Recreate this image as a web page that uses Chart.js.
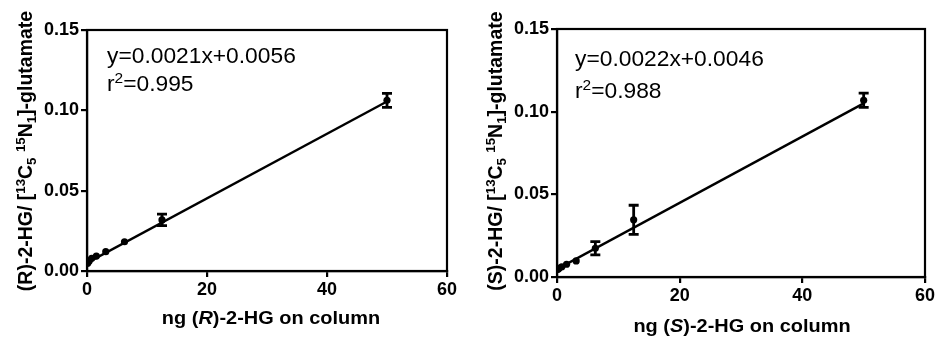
<!DOCTYPE html>
<html>
<head>
<meta charset="utf-8">
<script src="https://cdn.jsdelivr.net/npm/chart.js@4.4.1/dist/chart.umd.min.js"></script>
<style>
  html, body { margin: 0; padding: 0; background: #fff; }
  #wrap { position: relative; width: 939px; height: 339px; }
  .panel { position: absolute; top: 0; height: 339px; }
</style>
</head>
<body>
<div id="wrap">
  <div class="panel" style="left:0;width:470px"><canvas id="chartR"></canvas></div>
  <div class="panel" style="left:470px;width:469px"><canvas id="chartS"></canvas></div>
</div>
<script>
// ng on column (dilution series)
const ngOnColumn = [0.098, 0.195, 0.39, 0.78, 1.56, 3.125, 6.25, 12.5, 50];

// (R)-2-HG ratio, mean and SD
const ratioR = [0.0048, 0.0054, 0.0064, 0.0079, 0.0093, 0.0120, 0.0182, 0.0318, 0.1062];
const errR = [0, 0, 0, 0, 0, 0, 0, 0.0036, 0.0044];

// (S)-2-HG ratio, mean and SD
const ratioS = [0.0045, 0.0048, 0.0054, 0.0062, 0.0077, 0.0097, 0.0174, 0.0346, 0.1069];
const errS = [0, 0, 0, 0, 0, 0, 0.0040, 0.0088, 0.0043];

// fitted lines (end points)
const fitX = [0, 50];
const fitR = [0.0050, 0.1055];
const fitS = [0.0047, 0.1050];

const xTicks = [0, 20, 40, 60];
const yTicks = [0, 0.05, 0.10, 0.15];
const yTickLabels = ["0.00", "0.05", "0.10", "0.15"];

const FONT = "'Liberation Sans', Arial, Helvetica, sans-serif";

function segFont(s, size, weight) {
  const sz = s.sup || s.sub ? size * 0.68 : size;
  return (s.i ? "italic " : "") + weight + " " + sz + "px " + FONT;
}

// draws mixed text (italic / superscript / subscript) with baseline at (x, y)
function drawRich(ctx, segs, x, y, size, weight, align, sx) {
  ctx.save();
  ctx.translate(x, y);
  ctx.scale(sx, 1);
  let w = 0;
  segs.forEach(s => { ctx.font = segFont(s, size, weight); w += ctx.measureText(s.t).width; });
  let cx = align === "center" ? -w / 2 : 0;
  ctx.fillStyle = "#000";
  ctx.textBaseline = "alphabetic";
  ctx.textAlign = "left";
  segs.forEach(s => {
    ctx.font = segFont(s, size, weight);
    const dy = s.sup ? -size * 0.36 : s.sub ? size * 0.2 : 0;
    ctx.fillText(s.t, cx, dy);
    cx += ctx.measureText(s.t).width;
  });
  ctx.restore();
}

const errorBars = {
  id: "errorBars",
  afterDatasetsDraw(chart, args, opts) {
    const { ctx, scales: { x, y } } = chart;
    ctx.save();
    ctx.strokeStyle = "#000";
    ctx.lineWidth = 2.8;
    opts.xs.forEach((xv, i) => {
      const e = opts.err[i];
      if (!e) return;
      const px = x.getPixelForValue(xv);
      const top = y.getPixelForValue(opts.ys[i] + e);
      const bot = y.getPixelForValue(opts.ys[i] - e);
      ctx.beginPath();
      ctx.moveTo(px, top); ctx.lineTo(px, bot);
      ctx.moveTo(px - 5, top); ctx.lineTo(px + 5, top);
      ctx.moveTo(px - 5, bot); ctx.lineTo(px + 5, bot);
      ctx.stroke();
    });
    ctx.restore();
  }
};

const frameAndText = {
  id: "frameAndText",
  afterDraw(chart, args, o) {
    const { ctx, chartArea: a } = chart;
    ctx.save();
    ctx.strokeStyle = "#000";
    ctx.lineWidth = 2.2;
    ctx.strokeRect(a.left, a.top, a.right - a.left, a.bottom - a.top);
    ctx.restore();

    // y title, rotated
    ctx.save();
    ctx.translate(o.yTitlePos[0], o.yTitlePos[1]);
    ctx.rotate(-Math.PI / 2);
    drawRich(ctx, o.yTitle, 0, 0, 19.5, "bold", "center", 1);
    ctx.restore();

    drawRich(ctx, o.xTitle, o.xTitlePos[0], o.xTitlePos[1], 19, "bold", "center", 1.05);
    drawRich(ctx, o.eq, o.eqPos[0], o.eqPos[1], 21.5, "normal", "left", 1.06);
    drawRich(ctx, o.r2, o.eqPos[0], o.r2Y, 21.5, "normal", "left", 1.06);
  }
};

function yTitleSegs(letter) {
  return [
    { t: "(" + letter + ")-2-HG/ [" },
    { t: "13", sup: true }, { t: "C" }, { t: "5", sub: true }, { t: " " },
    { t: "15", sup: true }, { t: "N" }, { t: "1", sub: true }, { t: "]-glutamate" }
  ];
}
function xTitleSegs(letter) {
  return [{ t: "ng (" }, { t: letter, i: true }, { t: ")-2-HG on column" }];
}

function makeChart(id, ys, errs, fitY, cfg) {
  const tickFont = { family: FONT, size: 18, weight: "bold" };
  return new Chart(document.getElementById(id), {
    type: "scatter",
    data: {
      datasets: [
        {
          data: fitX.map((x, i) => ({ x: x, y: fitY[i] })),
          showLine: true,
          borderColor: "#000",
          borderWidth: 2.4,
          pointRadius: 0,
          order: 2
        },
        {
          data: ngOnColumn.map((x, i) => ({ x: x, y: ys[i] })),
          backgroundColor: "#000",
          borderColor: "#000",
          borderWidth: 0,
          pointRadius: 3.6,
          order: 1
        }
      ]
    },
    options: {
      responsive: true,
      maintainAspectRatio: false,
      animation: false,
      events: [],
      layout: { padding: { left: 0, top: cfg.top, right: cfg.right, bottom: 0 } },
      plugins: {
        legend: { display: false },
        tooltip: { enabled: false },
        errorBars: { xs: ngOnColumn, ys: ys, err: errs },
        frameAndText: {
          yTitle: yTitleSegs(cfg.letter),
          xTitle: xTitleSegs(cfg.letter),
          eq: [{ t: cfg.eq }],
          r2: [{ t: "r" }, { t: "2", sup: true }, { t: "=" + cfg.r2 }],
          yTitlePos: [32, 151],
          xTitlePos: cfg.xTitlePos,
          eqPos: cfg.eqPos,
          r2Y: cfg.r2Y
        }
      },
      scales: {
        x: {
          type: "linear",
          min: 0,
          max: 60,
          afterBuildTicks: s => { s.ticks = xTicks.map(v => ({ value: v })); },
          afterFit: s => { s.height = cfg.xAxisH; },
          grid: { drawOnChartArea: false, color: "#000", lineWidth: 2.2, tickLength: 6 },
          border: { color: "#000", width: 2.2 },
          ticks: { color: "#000", font: tickFont, padding: 2, maxRotation: 0 }
        },
        y: {
          type: "linear",
          min: 0,
          max: 0.15,
          afterBuildTicks: s => { s.ticks = yTicks.map(v => ({ value: v })); },
          afterFit: s => { s.width = 87; },
          grid: { drawOnChartArea: false, color: "#000", lineWidth: 2.2, tickLength: 6 },
          border: { color: "#000", width: 2.2 },
          ticks: {
            color: "#000", font: tickFont, padding: 2,
            callback: v => yTickLabels[yTicks.indexOf(v)]
          }
        }
      }
    },
    plugins: [errorBars, frameAndText]
  });
}

makeChart("chartR", ratioR, errR, fitR, {
  letter: "R", eq: "y=0.0021x+0.0056", r2: "0.995",
  top: 30, right: 23, xAxisH: 68,
  xTitlePos: [271, 324], eqPos: [107, 63], r2Y: 91
});
makeChart("chartS", ratioS, errS, fitS, {
  letter: "S", eq: "y=0.0022x+0.0046", r2: "0.988",
  top: 29, right: 14, xAxisH: 62,
  xTitlePos: [272, 332], eqPos: [105, 66], r2Y: 98
});
</script>
</body>
</html>
